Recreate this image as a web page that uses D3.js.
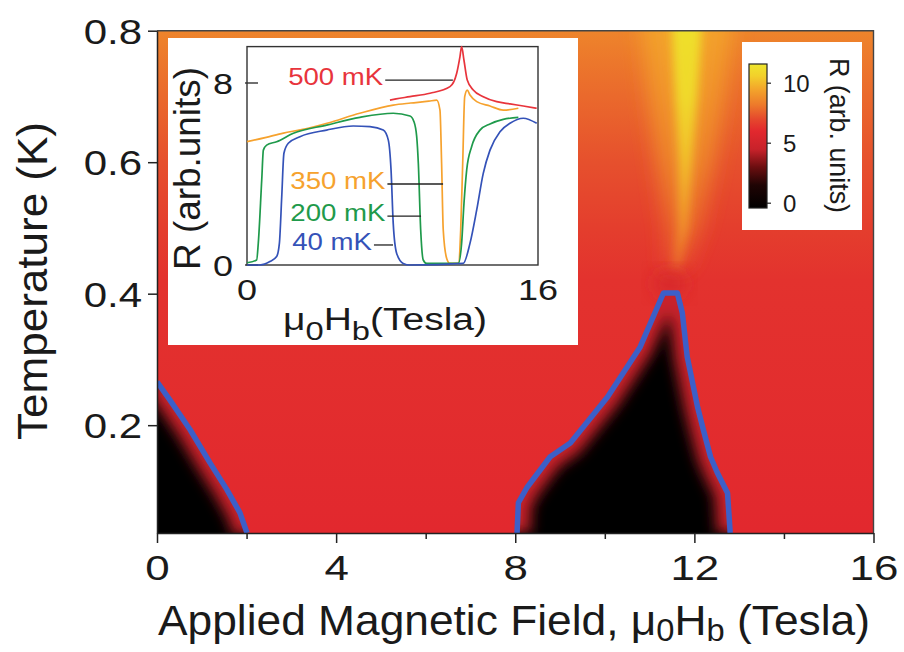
<!DOCTYPE html>
<html>
<head>
<meta charset="utf-8">
<script src="https://cdn.jsdelivr.net/npm/d3@7"></script>
<style>
body { margin: 0; background: #fff; }
svg text { font-family: "Liberation Sans", Arial, Helvetica, sans-serif; fill: #1a1a1a; }
</style>
</head>
<body>
<svg id="chart" width="904" height="652"></svg>
<script>
// PHASE BOUNDARIES (field in Tesla, temperature in K)
const leftEdgeH = [0, 0.29, 0.74, 1.18, 1.56, 1.85, 2.01];
const leftEdgeT = [0.266, 0.238, 0.193, 0.143, 0.102, 0.067, 0.036];
const domeH = [8.04, 8.07, 8.27, 8.78, 9.23, 10.06, 10.79, 11.31, 11.62, 11.73, 11.84, 12.07, 12.20, 12.36, 12.51, 12.74, 12.80];
const domeT = [0.036, 0.082, 0.106, 0.152, 0.173, 0.243, 0.319, 0.401, 0.401, 0.371, 0.304, 0.228, 0.193, 0.152, 0.128, 0.097, 0.036];

// BACKGROUND RESISTANCE vs TEMPERATURE
const bgT = [0.8, 0.7, 0.6, 0.5, 0.42, 0.036];
const bgR = [8.5, 7.8, 7.2, 6.7, 6.3, 6.0];

// BRIGHT PLUME ABOVE THE DOME
const plumeT = [0.8, 0.7, 0.6, 0.5, 0.44];
const plumeH = [11.83, 11.82, 11.8, 11.75, 11.6];
const plumeCoreW = [0.33, 0.25, 0.15, 0.1, 0.06];
const plumeCoreR = [11.3, 11.0, 10.2, 9.0, 8.0];
const plumeHaloW = [1.0, 0.85, 0.65, 0.4, 0.22];
const plumeHaloR = [9.4, 9.0, 8.5, 7.8, 7.2];
const glowHT = [11.45, 0.415];
const glowR = 4.8;

// COLOUR MAP
const cmapR = [-0.4, 1.5, 3.0, 4.5, 6.0, 7.0, 8.2, 9.5, 10.6, 11.6];
const cmapC = ["#000000", "#1f0404", "#6b0e10", "#c8222a", "#e2282e", "#e5482d", "#ed7a2b", "#f3a52b", "#f2d02b", "#eee62d"];
const cbarTicks = [0, 5, 10];

// AXES
const xTicks = [0, 4, 8, 12, 16];
const xMinor = [2, 6, 10, 14];
const yTicks = [0.2, 0.4, 0.6, 0.8];

// INSET CURVES (field in Tesla, R in arb. units)
const curveNames = ["500 mK", "350 mK", "200 mK", "40 mK"];
const curveColors = ["#e8343c", "#f6a22e", "#1f9a4b", "#3452b8"];
const h500 = [7.86, 8.2, 8.96, 10.06, 11.16, 11.53, 11.71, 11.8, 11.93, 12.11, 12.44, 12.99, 13.73, 14.46, 15.19, 15.93];
const r500 = [7.25, 7.3, 7.4, 7.55, 7.84, 8.43, 9.16, 9.6, 9.0, 8.13, 7.69, 7.4, 7.18, 7.08, 6.99, 6.89];
const h350 = [0, 1, 2, 3, 4.4, 6.2, 8.04, 9, 10, 10.43, 10.61, 10.70, 10.79, 10.98, 11.16, 11.62, 11.75, 11.86, 11.97, 12.11, 12.26, 12.63, 13.36, 14.09, 14.92];
const r350 = [5.42, 5.6, 5.8, 5.95, 6.23, 6.67, 7.03, 7.12, 7.2, 7.25, 6.81, 4.47, 1.54, 0.29, 0.07, 0.07, 1.54, 4.47, 7.4, 7.69, 7.47, 7.18, 6.99, 6.81, 6.89];
const h200 = [0, 0.53, 0.62, 0.81, 0.9, 1.08, 1.63, 2.55, 4.38, 6.21, 8.04, 8.96, 9.18, 9.33, 9.42, 9.55, 9.69, 9.88, 11.62, 11.8, 11.93, 12.08, 12.35, 12.81, 13.36, 14.09, 14.92];
const r200 = [0.1, 0.22, 0.95, 3.74, 5.05, 5.27, 5.42, 5.79, 6.15, 6.49, 6.67, 6.55, 6.3, 5.64, 4.47, 1.54, 0.22, 0.07, 0.07, 0.95, 2.71, 4.18, 5.2, 5.93, 6.2, 6.4, 6.49];
const h40 = [0, 0.71, 1.26, 1.63, 1.78, 1.91, 2.03, 2.27, 2.91, 4.38, 5.84, 6.76, 7.49, 7.77, 7.92, 8.04, 8.23, 8.59, 8.96, 11.89, 12.26, 12.63, 12.99, 13.36, 13.91, 14.46, 15.19, 15.93];
const r40 = [0, 0, 0.15, 0.37, 0.95, 3.0, 4.91, 5.35, 5.64, 5.93, 6.11, 6.08, 5.93, 5.49, 4.18, 1.83, 0.51, 0.07, 0, 0.07, 0.95, 2.42, 4.03, 5.05, 5.86, 6.23, 6.45, 6.23];
const leaderStartH = [7.6, 7.72, 7.72, 6.98];
const leaderEndH = [11.32, 10.78, 9.57, 8.03];
const leaderR = [8.13, 3.56, 2.15, 0.88];

// SCALES
const x = d3.scaleLinear().domain([0, 16]).range([157, 873.5]);
const y = d3.scaleLinear().domain([0.036, 0.8]).range([533, 30.7]);
const color = d3.scaleLinear().domain(cmapR).range(cmapC).clamp(true);
const ix = d3.scaleLinear().domain([0, 16]).range([247, 538]);
const iy = d3.scaleLinear().domain([0, 9.6]).range([265, 46.6]);
const cy = d3.scaleLinear().domain([-0.4, 11.6]).range([208, 64]);

const svg = d3.select("#chart");
const defs = svg.append("defs");

function addBlur(id, sd) {
  defs.append("filter").attr("id", id)
    .attr("x", "-50%").attr("y", "-50%").attr("width", "200%").attr("height", "200%")
    .append("feGaussianBlur").attr("stdDeviation", sd);
}
function vGradient(id, ys, cols) {
  const g = defs.append("linearGradient").attr("id", id)
    .attr("gradientUnits", "userSpaceOnUse")
    .attr("x1", 0).attr("x2", 0).attr("y1", ys[0]).attr("y2", ys[ys.length - 1]);
  const y0 = ys[0], y1 = ys[ys.length - 1];
  ys.forEach((v, i) => g.append("stop")
    .attr("offset", (v - y0) / (y1 - y0)).attr("stop-color", cols[i]));
}
addBlur("blurBig", 10);
addBlur("blurMid", 5);
addBlur("blurFringe", 7);

const plotW = x(16) - x(0), plotH = y(0.036) - y(0.8);
defs.append("clipPath").attr("id", "plotClip")
  .append("rect").attr("x", x(0)).attr("y", y(0.8)).attr("width", plotW).attr("height", plotH);

vGradient("bgGrad", bgT.map(y), bgR.map(color));
vGradient("haloGrad", plumeT.map(y), plumeHaloR.map(color));
vGradient("coreGrad", plumeT.map(y), plumeCoreR.map(color));

// MAP
const map = svg.append("g").attr("clip-path", "url(#plotClip)");
map.append("rect").attr("x", x(0)).attr("y", y(0.8)).attr("width", plotW).attr("height", plotH)
  .attr("fill", "url(#bgGrad)");

function plumePoly(widths) {
  const left = plumeT.map((t, i) => [x(plumeH[i] - widths[i]), y(t)]);
  const right = plumeT.map((t, i) => [x(plumeH[i] + widths[i]), y(t)]).reverse();
  const top = [[left[0][0], left[0][1] - 30]];
  const topR = [[right[right.length - 1][0], right[right.length - 1][1] - 30]];
  return top.concat(left, right, topR);
}
map.append("path").attr("d", d3.line().curve(d3.curveLinearClosed)(plumePoly(plumeHaloW)))
  .attr("fill", "url(#haloGrad)").attr("filter", "url(#blurBig)");
map.append("path").attr("d", d3.line().curve(d3.curveLinearClosed)(plumePoly(plumeCoreW)))
  .attr("fill", "url(#coreGrad)").attr("filter", "url(#blurMid)");
map.append("ellipse").attr("cx", x(glowHT[0])).attr("cy", y(glowHT[1]))
  .attr("rx", 14).attr("ry", 11).attr("fill", color(glowR)).attr("opacity", 0.75)
  .attr("filter", "url(#blurBig)");

// superconducting (black) regions
const leftPts = leftEdgeH.map((h, i) => [x(h), y(leftEdgeT[i])]);
const domePts = domeH.map((h, i) => [x(h), y(domeT[i])]);
const leftPoly = leftPts.concat([[leftPts[leftPts.length - 1][0], 545], [x(0) - 10, 545], [x(0) - 10, leftPts[0][1]]]);
const domePoly = domePts.concat([[domePts[domePts.length - 1][0], 545], [domePts[0][0], 545]]);
const line = d3.line();

[["leftClip", leftPoly, leftPts], ["domeClip", domePoly, domePts]].forEach(([id, poly, edge]) => {
  defs.append("clipPath").attr("id", id).append("path").attr("d", line(poly) + "Z");
  const g = map.append("g").attr("clip-path", `url(#${id})`);
  g.append("rect").attr("x", x(0)).attr("y", y(0.8)).attr("width", plotW).attr("height", plotH)
    .attr("fill", color(-0.4));
  g.append("path").attr("d", line(edge)).attr("fill", "none")
    .attr("stroke", color(4.5)).attr("stroke-width", 26).attr("filter", "url(#blurFringe)");
});

// boundary lines
[leftPts, domePts].forEach(pts => {
  map.append("path").attr("d", line(pts)).attr("fill", "none")
    .attr("stroke", "#3c5fc8").attr("stroke-width", 5.5).attr("stroke-linejoin", "round");
});

// frame
svg.append("path")
  .attr("d", `M${x(0)},${y(0.8)}H${x(16)}V${y(0.036)}`)
  .attr("fill", "none").attr("stroke", "#444").attr("stroke-width", 1.4);

// AXES
const yAxisG = svg.append("g").attr("transform", `translate(${x(0)},0)`)
  .call(d3.axisLeft(y).tickValues(yTicks).tickSize(9).tickSizeOuter(0).tickFormat(d3.format(".1f")));
yAxisG.selectAll(".tick text").attr("font-size", 35).attr("x", -15 / 1.2).attr("dy", "0.36em")
  .attr("transform", "scale(1.2,1)");

const xAxisG = svg.append("g").attr("transform", `translate(0,${y(0.036)})`)
  .call(d3.axisBottom(x).tickValues(xTicks).tickSize(10).tickSizeOuter(0).tickFormat(d3.format("d")));
xAxisG.selectAll(".tick text").attr("font-size", 36).attr("y", 47).attr("dy", 0)
  .attr("transform", "scale(1.22,1)");
svg.append("g").attr("transform", `translate(0,${y(0.036)})`)
  .call(d3.axisBottom(x).tickValues(xMinor).tickSize(6).tickSizeOuter(0).tickFormat(""))
  .select(".domain").remove();
svg.selectAll(".domain, .tick line").attr("stroke", "#222").attr("stroke-width", 1.5);

svg.append("text").attr("transform", "translate(47,281) rotate(-90)")
  .attr("text-anchor", "middle").attr("font-size", 42.5)
  .attr("textLength", 318).attr("lengthAdjust", "spacingAndGlyphs")
  .text("Temperature (K)");

const xl = svg.append("text").attr("x", 158).attr("y", 635).attr("font-size", 42)
  .attr("textLength", 712).attr("lengthAdjust", "spacingAndGlyphs");
xl.append("tspan").text("Applied Magnetic Field, \u03bc");
xl.append("tspan").attr("font-size", 31).attr("dy", 6).text("0");
xl.append("tspan").attr("dy", -6).text("H");
xl.append("tspan").attr("font-size", 31).attr("dy", 6).text("b");
xl.append("tspan").attr("dy", -6).text(" (Tesla)");

// INSET
svg.append("rect").attr("x", 168).attr("y", 38).attr("width", 410).attr("height", 307).attr("fill", "#fff");
svg.append("rect").attr("x", ix(0)).attr("y", iy(9.6)).attr("width", ix(16) - ix(0)).attr("height", iy(0) - iy(9.6))
  .attr("fill", "none").attr("stroke", "#333").attr("stroke-width", 1.4);
[0, 8].forEach(v => svg.append("line").attr("x1", ix(0) - 2).attr("x2", ix(0) + 11)
  .attr("y1", iy(v)).attr("y2", iy(v)).attr("stroke", "#333").attr("stroke-width", 1.4));

function insetText(t, px, py, anchor) {
  svg.append("text").attr("transform", `translate(${px},${py}) scale(1.2,1)`)
    .attr("text-anchor", anchor).attr("font-size", 30).text(t);
}
insetText("8", ix(0) - 14, iy(8) + 10.5, "end");
insetText("0", ix(0) - 14, iy(0) + 10.5, "end");
insetText("0", ix(0), 300, "middle");
insetText("16", ix(16), 300, "middle");

svg.append("text").attr("transform", "translate(200,270) rotate(-90)")
  .attr("font-size", 37).attr("textLength", 203).attr("lengthAdjust", "spacingAndGlyphs")
  .text("R (arb.units)");
const il = svg.append("text").attr("x", 283).attr("y", 330).attr("font-size", 31)
  .attr("textLength", 204).attr("lengthAdjust", "spacingAndGlyphs");
il.append("tspan").text("\u03bc");
il.append("tspan").attr("font-size", 26).attr("dy", 10).text("0");
il.append("tspan").attr("dy", -10).text("H");
il.append("tspan").attr("font-size", 26).attr("dy", 10).text("b");
il.append("tspan").attr("dy", -10).text("(Tesla)");

const curves = [[h500, r500], [h350, r350], [h200, r200], [h40, r40]];
const iline = d3.line().curve(d3.curveMonotoneX);
curves.forEach(([hs, rs], i) => {
  svg.append("path").attr("d", iline(hs.map((h, k) => [ix(h), iy(rs[k])])))
    .attr("fill", "none").attr("stroke", curveColors[i]).attr("stroke-width", 1.7);
});
curveNames.forEach((name, i) => {
  svg.append("line").attr("x1", ix(leaderStartH[i])).attr("x2", ix(leaderEndH[i]))
    .attr("y1", iy(leaderR[i])).attr("y2", iy(leaderR[i]))
    .attr("stroke", "#222").attr("stroke-width", 1.3);
  svg.append("text").attr("transform", `translate(${ix(leaderStartH[i]) - 2},${iy(leaderR[i]) + 5}) scale(1.2,1)`)
    .attr("text-anchor", "end").attr("font-size", 23).style("fill", curveColors[i]).text(name);
});

// COLOUR BAR
svg.append("rect").attr("x", 742).attr("y", 42).attr("width", 120).attr("height", 188).attr("fill", "#fff");
vGradient("cbarGrad", cmapR.map(cy), cmapC);
svg.append("rect").attr("x", 749).attr("y", cy(11.6)).attr("width", 18).attr("height", cy(-0.4) - cy(11.6))
  .attr("fill", "url(#cbarGrad)").attr("stroke", "#222").attr("stroke-width", 1.2);
cbarTicks.forEach(v => {
  svg.append("line").attr("x1", 767).attr("x2", 771).attr("y1", cy(v)).attr("y2", cy(v))
    .attr("stroke", "#222").attr("stroke-width", 1.2);
  svg.append("text").attr("x", 783).attr("y", cy(v)).attr("dy", "0.36em")
    .attr("font-size", 24).text(v);
});
svg.append("text").attr("transform", "translate(830,58) rotate(90)")
  .attr("font-size", 27).attr("textLength", 155).attr("lengthAdjust", "spacingAndGlyphs")
  .text("R (arb. units)");
</script>
</body>
</html>
